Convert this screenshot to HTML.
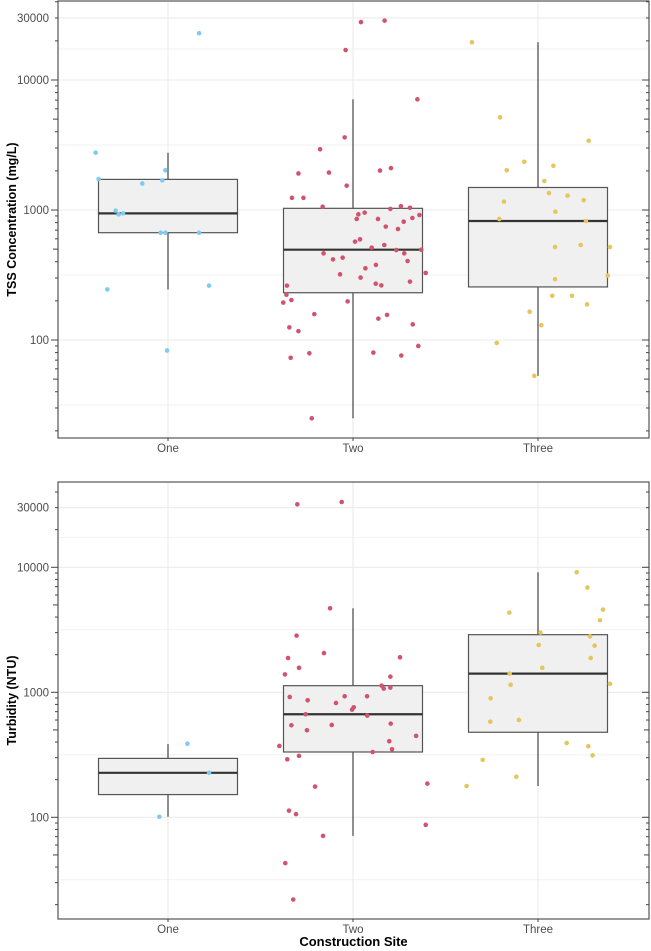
<!DOCTYPE html>
<html><head><meta charset="utf-8"><style>
html,body{margin:0;padding:0;background:#fff;}
svg{display:block;font-family:"Liberation Sans",Arial,sans-serif;}
</style></head><body>
<svg id="chart" width="651" height="951" viewBox="0 0 651 951" xmlns="http://www.w3.org/2000/svg"></svg>
<script>
const categories = ["One","Two","Three"];
const yTicksTop = [100,1000,10000,30000];
const yTicksBottom = [100,1000,10000,30000];
// TSS boxes: [whiskerLow, q1, median, q3, whiskerHigh]
const tssBoxes = [[245,669,942,1720,2760],[25,231,495,1030,7100],[53,256,823,1490,19500]];
const turbBoxes = [[101,152,227,296,385],[71,333,667,1130,4700],[178,479,1410,2890,9120]];
// TSS points: values and horizontal jitter (category units)
const tssOneVals = [2760,1730,22900,2020,1690,1600,988,926,942,669,669,669,262,245,83];
const tssOneJit = [-0.391,-0.375,0.168,-0.014,-0.031,-0.139,-0.283,-0.267,-0.243,-0.040,-0.014,0.168,0.222,-0.328,-0.005];
const tssTwoVals = [27900,28600,17000,7100,3620,2930,1910,1940,2010,2100,1540,1240,1240,1060,1020,1070,1040,926,954,853,853,813,868,915,745,714,571,595,513,538,464,417,430,492,464,495,405,356,378,320,302,328,262,271,263,281,223,194,203,198,158,146,156,132,125,117,90,79,73,80,76,25];
const tssTwoJit = [0.043,0.171,-0.040,0.348,-0.045,-0.178,-0.295,-0.130,0.146,0.205,-0.034,-0.330,-0.268,-0.164,0.202,0.259,0.308,0.029,0.063,0.020,0.135,0.274,0.321,0.359,0.177,0.243,0.011,0.038,0.101,0.169,-0.159,-0.108,-0.056,0.234,0.277,0.369,0.295,0.067,0.124,-0.070,0.041,0.393,-0.357,0.123,0.153,0.308,-0.360,-0.377,-0.333,-0.029,-0.209,0.137,0.184,0.323,-0.344,-0.295,0.353,-0.236,-0.337,0.110,0.261,-0.223];
const tssThreeVals = [19500,5160,3410,2350,2190,2020,1670,1160,1350,1290,1190,970,853,823,519,538,519,294,313,219,219,188,165,130,95,53];
const tssThreeJit = [-0.357,-0.205,0.274,-0.074,0.083,-0.169,0.034,-0.184,0.059,0.160,0.247,0.094,-0.209,0.259,0.092,0.231,0.389,0.092,0.377,0.077,0.184,0.265,-0.045,0.018,-0.223,-0.020];
// Turbidity points
const turbOneVals = [388,227,101];
const turbOneJit = [0.105,0.222,-0.047];
const turbTwoVals = [31900,33300,4700,2840,2060,1880,1905,1570,1390,1335,1130,1070,1090,918,863,822,929,929,727,759,667,651,545,497,548,561,448,372,406,350,333,291,310,176,186,113,106,87,71,43,22];
const turbTwoJit = [-0.301,-0.061,-0.124,-0.305,-0.157,-0.351,0.254,-0.292,-0.368,0.202,0.155,0.166,0.202,-0.342,-0.245,-0.092,-0.045,0.076,-0.005,0.004,-0.256,0.077,-0.333,-0.249,-0.115,0.204,0.341,-0.398,0.196,0.211,0.106,-0.355,-0.292,-0.205,0.402,-0.346,-0.308,0.393,-0.162,-0.366,-0.323];
const turbThreeVals = [9120,6880,4590,3770,4340,3000,2390,2800,2360,1880,1570,1410,1150,1170,895,582,601,393,370,313,288,211,178];
const turbThreeJit = [0.209,0.267,0.351,0.335,-0.155,0.013,0.004,0.281,0.306,0.285,0.023,-0.153,-0.148,0.389,-0.256,-0.258,-0.103,0.155,0.272,0.295,-0.299,-0.117,-0.386];

const NS = "http://www.w3.org/2000/svg";
const svg = document.getElementById("chart");
const colors = ["#7fcbef","#d1536d","#e5c65b"];
function mk(tag, attrs, parent){const e=document.createElementNS(NS,tag);for(const k in attrs)e.setAttribute(k,attrs[k]);(parent||svg).appendChild(e);return e;}

const L=58, R=649;
function xScale(i){return 168 + i*185;}
const halfW = 69.5;

function panel(cfg){
  const g = mk("g",{});
  
  
  const yS = v => cfg.y1000 - (Math.log10(v)-3)*cfg.dec;
  const bg = mk("rect",{x:L,y:cfg.top,width:R-L,height:cfg.bot-cfg.top,fill:"#fff"},g);
  
  
  const br = cfg.ticks.map(Math.log10);
  const mids = [br[0]-0.5];
  for(let i=0;i<br.length-1;i++) mids.push((br[i]+br[i+1])/2);
  mids.forEach(m=>{const y=yS(Math.pow(10,m)); if(y>cfg.top&&y<cfg.bot){const l=mk("line",{x1:L,x2:R,y1:y,y2:y,stroke:"#f2f2f2","stroke-width":1},g);}});
  cfg.ticks.forEach(t=>{const y=yS(t);const l=mk("line",{x1:L,x2:R,y1:y,y2:y,stroke:"#ebebeb","stroke-width":1.1},g);});
  categories.forEach((c,i)=>{const l=mk("line",{x1:xScale(i),x2:xScale(i),y1:cfg.top,y2:cfg.bot,stroke:"#ebebeb","stroke-width":1.1},g);});
  cfg.boxes.forEach((b,i)=>{
    const x=xScale(i);
    const bx = mk("g",{},g);
    
    
    mk("line",{x1:x,x2:x,y1:yS(b[0]),y2:yS(b[1]),stroke:"#444","stroke-width":1.2},bx);
    mk("line",{x1:x,x2:x,y1:yS(b[3]),y2:yS(b[4]),stroke:"#444","stroke-width":1.2},bx);
    mk("rect",{x:x-halfW,y:yS(b[3]),width:2*halfW,height:yS(b[1])-yS(b[3]),fill:"#f0f0f0",stroke:"#555","stroke-width":1.2},bx);
    mk("line",{x1:x-halfW,x2:x+halfW,y1:yS(b[2]),y2:yS(b[2]),stroke:"#333","stroke-width":2.2},bx);
  });
  cfg.pts.forEach((p,i)=>{
    p[0].forEach((v,j)=>{
      const c=mk("circle",{cx:xScale(i)+p[1][j]*185,cy:yS(v),r:2.3,fill:colors[i]},g);
      
      
    });
  });
  const fr=mk("rect",{x:L,y:cfg.top,width:R-L,height:cfg.bot-cfg.top,fill:"none",stroke:"#555","stroke-width":1.2},g);
  
  
  for(let d=1; d<=4; d++){
    for(let m=1;m<=9;m++){
      const v=m*Math.pow(10,d); const y=yS(v);
      if(y<cfg.top||y>cfg.bot) continue;
      const len = m===1?7:(m===5?5:3);
      const t1=mk("line",{x1:L-len,x2:L,y1:y,y2:y,stroke:"#444","stroke-width":1},g);
      
      
      const t2=mk("line",{x1:R-len,x2:R,y1:y,y2:y,stroke:"#444","stroke-width":1},g);
      
      
    }
  }
  cfg.ticks.forEach(t=>{
    const tx=mk("text",{x:L-9,y:yS(t)+4,"text-anchor":"end","font-size":"11.5",fill:"#4d4d4d"},g);
    tx.textContent=String(t);
    
    
  });
  categories.forEach((c,i)=>{
    mk("line",{x1:xScale(i),x2:xScale(i),y1:cfg.bot,y2:cfg.bot+3,stroke:"#444","stroke-width":1},g);
    const tx=mk("text",{x:xScale(i),y:cfg.bot+14,"text-anchor":"middle","font-size":"11.5",fill:"#4d4d4d"},g);
    tx.textContent=c;
    
    
  });
  const cy=(cfg.top+cfg.bot)/2;
  const yt=mk("text",{x:0,y:0,transform:`translate(16,${cy}) rotate(-90)`,"text-anchor":"middle","font-size":"12.5","font-weight":"bold",fill:"#000"},g);
  yt.textContent=cfg.title;
  
  
}

panel({name:"tss-panel",top:1,bot:438,y1000:210,dec:130,ticks:yTicksTop,title:"TSS Concentration (mg/L)",boxes:tssBoxes,
  pts:[[tssOneVals,tssOneJit],[tssTwoVals,tssTwoJit],[tssThreeVals,tssThreeJit]]});
panel({name:"turbidity-panel",top:482,bot:919,y1000:692.3,dec:125,ticks:yTicksBottom,title:"Turbidity (NTU)",boxes:turbBoxes,
  pts:[[turbOneVals,turbOneJit],[turbTwoVals,turbTwoJit],[turbThreeVals,turbThreeJit]]});

const xt=mk("text",{x:(L+R)/2,y:946,"text-anchor":"middle","font-size":"13","font-weight":"bold",fill:"#000"});
xt.textContent="Construction Site";


</script>
</body></html>
